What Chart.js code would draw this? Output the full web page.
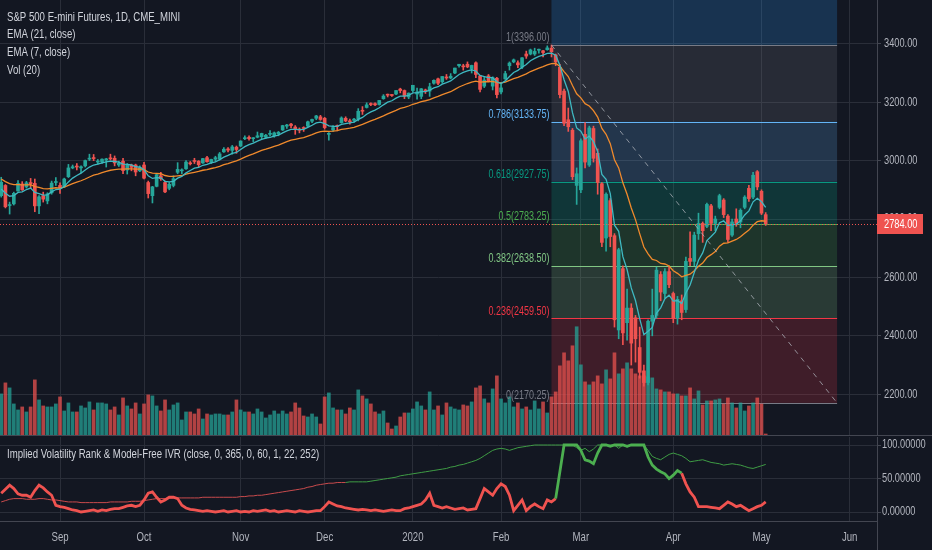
<!DOCTYPE html>
<html lang="en">
<head>
  <meta charset="UTF-8">
  <title>S&P 500 E-mini Futures, 1D</title>
  <script src="https://cdn.jsdelivr.net/npm/chart.js"></script>
  <style>
    html, body { margin: 0; padding: 0; background: #131722; }
    #wrap { position: relative; width: 932px; height: 550px; overflow: hidden; background: #131722; }
    #main { position: absolute; left: 0; top: 0; }
    #ivr { position: absolute; left: 0; top: 436px; }
  </style>
</head>
<body>
<div id="wrap">
  <canvas id="main" width="932" height="436"></canvas>
  <canvas id="ivr" width="932" height="114"></canvas>
</div>
<script>
// daily bars, 2019-08-13 .. 2020-05-04 (index 0..182), x = bar index
const open = [2880,2915,2846,2852,2896,2920,2910,2925,2922,2845,2880,2862,2890,2925,
  2915,2910,2945,2975,2980,2975,2982,3005,3010,2995,2996,3002,3008,3008,2985,2998,2968,2985,2985,2965,
  2985,2925,2880,2912,2948,2925,2905,2915,2960,2965,2972,2990,3000,2998,2992,3010,2994,3005,3005,3030,3040,3035,3046,
  3050,3075,3080,3075,3080,3082,3080,3090,3085,3092,3105,3118,3125,3115,3108,3112,3118,3135,3145,3150,
  3145,3090,3105,3118,3130,3145,3135,3138,3142,3170,3182,3195,3195,3192,3212,3226,3225,3228,3245,3240,3218,
  3240,3228,3220,3242,3238,3265,3280,3270,3286,3283,3300,3325,3322,3330,3315,3335,3290,3255,3290,3255,3282,
  3235,3280,3325,3338,3335,3320,3365,3365,3365,3378,3376,3380,3385,3362,3320,3238,3140,3104,2915,
  2900,3090,2985,3110,3025,2921,2735,2863,2743,2420,2630,2445,2495,2462,2360,2280,2240,2450,2470,2610,2545,2620,
  2545,2460,2520,2490,2665,2655,2750,2785,2775,2845,2785,2840,2865,2810,2745,2800,2790,2840,2905,2875,2962,2895,2815];
const high = [2943,2918,2858,2892,2932,2928,2929,2939,2937,2880,2892,2890,2930,2942,
  2924,2940,2987,2985,2990,2982,3002,3022,3021,3004,3006,3008,3022,3016,2998,3008,2990,2988,2988,2982,
  2994,2930,2912,2953,2960,2930,2925,2948,2993,2972,3000,2997,3008,3000,3008,3015,3005,3015,3028,3045,3045,3052,3050,
  3068,3085,3085,3079,3098,3094,3090,3103,3098,3100,3121,3124,3128,3120,3112,3116,3135,3142,3155,3155,
  3148,3096,3120,3122,3150,3150,3142,3145,3178,3185,3198,3198,3198,3206,3226,3228,3226,3240,3248,3242,3232,
  3258,3248,3247,3245,3265,3277,3283,3288,3295,3298,3317,3330,3330,3338,3327,3338,3292,3285,3295,3287,3285,
  3268,3306,3338,3348,3342,3353,3375,3382,3385,3382,3378,3393,3396,3365,3330,3245,3180,3110,2975,
  3075,3130,3118,3118,3040,2925,2890,2870,2750,2700,2640,2560,2510,2470,2430,2300,2455,2560,2635,2620,2630,2640,
  2550,2535,2540,2670,2756,2755,2820,2790,2855,2850,2810,2885,2870,2815,2800,2835,2835,2880,2915,2960,2966,2900,2822];
const low = [2875,2838,2817,2848,2895,2898,2906,2905,2825,2818,2858,2852,2885,2915,
  2888,2908,2942,2972,2968,2958,2978,3000,3000,2988,2990,2978,3002,2982,2980,2955,2954,2965,2948,2962,
  2937,2872,2855,2910,2932,2890,2900,2910,2955,2955,2970,2985,2990,2978,2990,2995,2990,2998,3002,3028,3030,3022,3025,
  3048,3072,3070,3065,3078,3075,3076,3085,3080,3085,3103,3110,3112,3090,3095,3100,3116,3130,3140,3138,
  3108,3070,3100,3102,3128,3133,3125,3132,3136,3158,3180,3188,3188,3190,3210,3218,3220,3226,3232,3212,3212,
  3235,3210,3212,3230,3220,3262,3260,3265,3278,3280,3298,3320,3310,3318,3300,3284,3235,3250,3270,3242,3215,
  3228,3278,3310,3335,3318,3315,3350,3362,3360,3368,3355,3378,3355,3325,3215,3120,3100,2935,2850,
  2890,2975,2980,2995,2885,2705,2690,2705,2430,2390,2370,2385,2300,2310,2255,2228,2232,2400,2460,2520,2530,2565,
  2445,2440,2455,2480,2640,2640,2730,2720,2770,2760,2760,2835,2805,2720,2740,2775,2770,2835,2860,2870,2900,2815,2778];
const close = [2926,2842,2848,2888,2922,2900,2924,2921,2845,2876,2868,2886,2923,2926,
  2905,2937,2975,2979,2978,2979,3000,3008,3007,2997,3005,3006,3006,2992,2991,2966,2984,2977,2961,2976,
  2940,2887,2910,2952,2938,2893,2919,2938,2970,2966,2995,2989,2997,2986,3007,2996,3004,3010,3023,3039,3036,3047,3038,
  3067,3078,3075,3077,3085,3093,3087,3091,3095,3097,3120,3122,3120,3108,3104,3110,3133,3141,3153,3141,
  3113,3093,3113,3117,3146,3136,3133,3142,3169,3169,3191,3192,3191,3206,3221,3224,3223,3240,3240,3221,3231,
  3258,3235,3246,3237,3253,3275,3265,3288,3283,3289,3317,3330,3321,3321,3326,3295,3244,3276,3273,3284,3226,
  3249,3298,3334,3345,3328,3352,3358,3379,3374,3380,3370,3386,3373,3338,3226,3128,3116,2945,2955,
  3068,2995,3112,3008,2925,2720,2885,2740,2455,2695,2410,2495,2375,2390,2275,2240,2450,2470,2625,2550,2620,2575,
  2460,2525,2480,2655,2655,2745,2785,2760,2850,2785,2800,2880,2815,2730,2790,2785,2830,2875,2870,2950,2910,2820,2784];
// volume, millions of contracts
const volume = [2.1,2.65,2.4,1.6,1.3,1.45,1.2,1.45,2.8,1.8,1.5,1.45,1.45,1.6,
  1.95,1.25,1.65,1.2,1.2,1.5,1.4,1.7,1.3,1.65,1.65,1.6,1.3,1.45,1.05,1.9,1.5,1.35,1.65,1.1,
  1.6,2.05,2.0,1.5,1.25,1.8,1.3,1.55,1.65,0.8,1.2,1.2,1.1,1.35,0.85,1.1,1.05,1.1,1.1,1.05,1.05,1.2,1.8,
  1.3,1.2,1.2,1.1,1.35,1.2,0.9,1.05,1.25,1.1,1.25,1.1,1.2,1.65,1.4,1.0,0.95,1.1,0.95,0.6,
  1.95,2.15,1.4,1.3,1.3,1.1,1.4,1.3,2.3,2.0,1.85,1.6,1.2,1.1,1.25,0.65,0.35,0.5,0.95,
  1.15,1.15,1.35,1.7,1.5,1.3,2.2,1.3,1.5,1.05,1.65,1.45,1.35,1.3,1.55,1.5,1.7,2.4,2.5,1.85,1.65,2.35,3.0,
  1.85,1.65,1.95,1.45,1.65,1.35,1.45,1.3,1.75,1.35,1.7,1.15,1.95,2.2,
  3.5,4.15,3.75,4.5,5.45,3.55,2.7,2.55,2.7,3.0,2.6,3.3,2.85,4.15,3.1,3.35,3.65,3.35,3.1,3.0,3.0,2.95,2.9,2.35,2.3,
  2.2,2.2,2.1,2.1,2.0,2.0,2.4,1.85,2.25,1.55,1.75,1.75,1.8,1.85,1.6,1.9,1.65,1.4,1.65,1.25,1.5,1.65,1.9,1.6,0.1];
const ema7 = [2903,2888,2878,2880,2891,2893,2901,2906,2891,2887,2882,2883,2893,2901,2902,2911,2927,2940,2949,2957,
  2968,2978,2985,2988,2992,2996,2998,2997,2995,2988,2987,2985,2979,2978,2969,2948,2939,2942,2941,2929,
  2927,2929,2940,2946,2958,2966,2974,2977,2984,2987,2992,2996,3003,3012,3018,3025,3028,3038,3048,3055,
  3060,3067,3073,3077,3080,3084,3087,3095,3102,3107,3107,3106,3107,3114,3121,3129,3132,3127,3119,3117,
  3117,3124,3127,3129,3132,3141,3148,3159,3167,3173,3181,3191,3200,3205,3214,3221,3221,3223,3232,3233,
  3236,3236,3241,3249,3253,3262,3267,3273,3284,3295,3302,3307,3311,3307,3292,3288,3284,3284,3270,3264,
  3273,3288,3302,3309,3320,3329,3342,3350,3357,3361,3367,3368,3361,3327,3277,3237,3164,3112,3101,3074,
  3084,3065,3031,2953,2936,2887,2779,2758,2671,2627,2564,2521,2459,2404,2416,2429,2478,2496,2527,2539,
  2519,2521,2511,2547,2574,2617,2659,2684,2726,2740,2755,2787,2794,2778,2781,2782,2794,2814,2828,2859,
  2871,2859,2840];
const ema21 = [2937,2928,2921,2918,2918,2917,2917,2918,2911,2908,2904,2903,2905,2907,2906,2909,2915,2921,2926,2931,
  2937,2944,2950,2954,2959,2963,2967,2969,2971,2971,2972,2972,2971,2972,2969,2961,2957,2956,2955,2949,
  2946,2946,2948,2949,2954,2957,2960,2963,2967,2969,2973,2976,2980,2986,2990,2995,2999,3005,3012,3018,
  3023,3029,3035,3039,3044,3049,3053,3059,3065,3070,3073,3076,3079,3084,3089,3095,3099,3101,3100,3101,
  3103,3107,3109,3111,3114,3119,3124,3130,3136,3141,3147,3153,3160,3166,3172,3179,3182,3187,3193,3197,
  3202,3205,3209,3215,3220,3226,3231,3236,3244,3252,3258,3264,3269,3272,3269,3270,3270,3271,3267,3266,
  3269,3275,3281,3285,3291,3297,3305,3311,3317,3322,3328,3332,3333,3323,3305,3288,3257,3229,3215,3195,
  3187,3171,3149,3110,3090,3058,3003,2975,2924,2885,2838,2798,2750,2704,2681,2662,2658,2648,2646,2639,
  2623,2614,2602,2607,2611,2623,2638,2649,2668,2678,2689,2707,2717,2718,2724,2730,2739,2751,2762,2779,
  2791,2794,2793];
// Implied Volatility Rank (thick) and Model-Free IVR (thin)
const ivrRank = [28,34,40,35,27,25,25,22,32,40,36,30,25,10,
  8,7,5,3,2,0,1,2,3,1,3,2,4,5,5,7,9,10,8,10,
  18,28,30,22,15,18,22,22,20,10,6,4,3,2,1,2,1,0,1,2,0,1,2,
  0,1,0,2,1,2,3,1,2,0,1,2,1,0,2,1,0,1,2,2,
  8,15,12,9,8,6,5,4,3,4,3,2,3,2,1,2,3,2,2,
  5,6,8,10,12,18,28,10,8,6,8,6,4,5,6,3,4,5,20,35,30,25,35,42,38,25,2,10,18,2,8,12,8,5,18,15,20,
  60,100,100,100,100,92,78,76,72,88,100,100,98,100,100,100,98,100,100,100,100,
  82,70,64,60,57,50,55,62,58,42,30,22,8,8,8,7,6,5,10,15,12,8,10,6,2,5,8,10,15];
const ivrModel = [15,17,19,20,20,20,19,19,19,20,20,19,18,18,
  17,16,15,15,15,14,14,14,14,14,14,14,15,15,15,15,15,16,16,16,
  17,18,19,20,20,20,21,21,21,21,21,21,21,21,22,22,22,22,22,22,22,22,22,
  23,23,24,24,25,25,26,27,28,29,30,31,32,33,34,35,37,38,40,41,
  42,43,43,44,44,44,45,45,45,45,45,46,47,48,49,50,51,52,54,
  55,56,57,58,59,60,61,62,63,64,65,67,68,70,71,73,75,77,80,84,88,92,94,95,94,92,94,96,97,98,99,100,
  100,100,100,100,100,100,100,100,100,96,92,95,90,94,100,100,100,100,100,95,100,97,100,100,100,100,
  92,83,80,78,82,86,88,86,84,80,75,76,77,78,76,74,73,72,70,71,72,71,70,68,66,65,67,69,71];

// time axis
const tickIndex = [14, 34, 57, 77, 98, 119, 138, 160, 181, 202];
const tickLabels = ['Sep', 'Oct', 'Nov', 'Dec', '2020', 'Feb', 'Mar', 'Apr', 'May', 'Jun'];
const priceTicks = [2200, 2400, 2600, 2800, 3000, 3200, 3400];
const ivrTicks = [0, 50, 100];

// fib retracement drawn from the Feb high to the March low
const fibRatios = ['1.618', '1', '0.786', '0.618', '0.5', '0.382', '0.236', '0'];
const fibPrices = [4153.50, 3396.00, 3133.75, 2927.75, 2783.25, 2638.50, 2459.50, 2170.25];
const fibColors = ['#2c9cf5', '#787b86', '#64b5f6', '#089981', '#4caf50', '#81c784', '#f23645', '#787b86'];
const fibStart = 131, fibEnd = 199;
const lastPrice = 2784.00;

const legendMain = ['S&P 500 E-mini Futures, 1D, CME_MINI', 'EMA (21, close)', 'EMA (7, close)', 'Vol (20)'];
const legendIvr = 'Implied Volatility Rank & Model-Free IVR (close, 0, 365, 0, 60, 1, 22, 252)';

const FONT = "'Liberation Sans', Arial, sans-serif";
const GRID = '#2a2e39';
const AXIS = '#434651';
const TXT = '#b2b5be';
const UP = '#26a69a', DOWN = '#ef5350';
const X_MIN = -0.29, X_MAX = 208.5;

Chart.defaults.font.family = FONT;
Chart.defaults.color = TXT;

const idx = close.map((_, i) => i);
const isUp = i => close[i] >= open[i];
const noPad = s => { s.paddingTop = 0; s.paddingBottom = 0; s.paddingLeft = 0; s.paddingRight = 0; };

function hex(c, a) {
  const n = parseInt(c.slice(1), 16);
  return `rgba(${n >> 16},${(n >> 8) & 255},${n & 255},${a})`;
}

// TradingView draws with a narrow face; squeeze the installed one horizontally
function narrowText(ctx, text, x, y, size, color, align, sx) {
  ctx.save();
  ctx.font = size + 'px ' + FONT;
  ctx.fillStyle = color;
  ctx.textAlign = align || 'left';
  ctx.textBaseline = 'middle';
  ctx.translate(x, y);
  ctx.scale(sx || 0.77, 1);
  ctx.fillText(text, 0, 0);
  ctx.restore();
}

const fibPlugin = {
  id: 'fib',
  beforeDatasetsDraw(chart) {
    const { ctx, chartArea: a, scales: { x, y } } = chart;
    const x0 = x.getPixelForValue(fibStart), x1 = x.getPixelForValue(fibEnd);
    ctx.save();
    ctx.beginPath();
    ctx.rect(a.left, a.top, a.right - a.left, a.bottom - a.top);
    ctx.clip();
    for (let k = 0; k < fibPrices.length - 1; k++) {
      const t = y.getPixelForValue(fibPrices[k]), b = y.getPixelForValue(fibPrices[k + 1]);
      ctx.fillStyle = hex(fibColors[k], k === 0 ? 0.22 : (k === 3 ? 0.24 : 0.2));
      ctx.fillRect(x0, t, x1 - x0, b - t);
    }
    for (let k = 1; k < fibPrices.length; k++) {
      const py = Math.round(y.getPixelForValue(fibPrices[k])) + 0.5;
      ctx.strokeStyle = fibColors[k];
      ctx.lineWidth = 1;
      ctx.beginPath();
      ctx.moveTo(x0, py);
      ctx.lineTo(x1, py);
      ctx.stroke();
    }
    ctx.restore();
  },
  afterDatasetsDraw(chart) {
    const { ctx, scales: { x, y } } = chart;
    const x0 = x.getPixelForValue(fibStart);
    for (let k = 1; k < fibPrices.length; k++) {
      narrowText(ctx, `${fibRatios[k]}(${fibPrices[k].toFixed(2)})`, x0 - 2,
        y.getPixelForValue(fibPrices[k]) - 7, 12, fibColors[k], 'right', 0.75);
    }
  }
};

const mainDecor = {
  id: 'mainDecor',
  afterDraw(chart) {
    const { ctx, chartArea: a, scales: { y } } = chart;
    priceTicks.forEach(v => narrowText(ctx, v.toFixed(2), a.right + 7, y.getPixelForValue(v), 12.5, TXT, 'left', 0.74));
    const py = Math.round(y.getPixelForValue(lastPrice)) + 0.5;
    ctx.save();
    ctx.strokeStyle = DOWN;
    ctx.lineWidth = 1;
    ctx.setLineDash([1, 2]);
    ctx.beginPath();
    ctx.moveTo(a.left, py);
    ctx.lineTo(a.right, py);
    ctx.stroke();
    ctx.setLineDash([]);
    ctx.fillStyle = DOWN;
    ctx.fillRect(a.right, py - 10.5, 46, 20);
    // pane separator
    ctx.strokeStyle = AXIS;
    ctx.beginPath();
    ctx.moveTo(0, 435.5);
    ctx.lineTo(chart.width, 435.5);
    ctx.stroke();
    ctx.restore();
    narrowText(ctx, lastPrice.toFixed(2), a.right + 7, py, 12.5, '#ffffff', 'left', 0.74);
    legendMain.forEach((t, i) => narrowText(ctx, t, 7, 17 + i * 17.8, 13, '#d1d4dc', 'left', 0.74));
  }
};

const ivrDecor = {
  id: 'ivrDecor',
  afterDraw(chart) {
    const { ctx, chartArea: a, scales: { x, y } } = chart;
    narrowText(ctx, legendIvr, 7, 18, 13, '#d1d4dc', 'left', 0.74);
    ivrTicks.forEach(v => narrowText(ctx, v.toFixed(5), a.right + 5, y.getPixelForValue(v), 12.5, TXT, 'left', 0.74));
    tickIndex.forEach((v, i) => narrowText(ctx, tickLabels[i], x.getPixelForValue(v), a.bottom + 16, 13, TXT, 'center', 0.74));
    ctx.save();
    ctx.strokeStyle = AXIS;
    ctx.beginPath();
    ctx.moveTo(a.right + 0.5, a.bottom);
    ctx.lineTo(a.right + 0.5, chart.height);
    ctx.stroke();
    ctx.restore();
  }
};

const xCommon = {
  type: 'linear', min: X_MIN, max: X_MAX, offset: false,
  afterBuildTicks: s => { s.ticks = tickIndex.map(v => ({ value: v })); },
  ticks: { display: false },
  grid: { color: GRID, drawTicks: false, offset: false }
};

const yCommon = {
  type: 'linear', position: 'right',
  ticks: { display: false },
  grid: { color: GRID, tickLength: 4, tickColor: AXIS },
  border: { display: true, color: AXIS },
  afterFit: s => { s.width = 55; noPad(s); }
};

new Chart(document.getElementById('main'), {
  type: 'bar',
  data: {
    datasets: [
      {
        type: 'line', label: 'trend', order: 0,
        data: [{ x: fibStart, y: fibPrices[1] }, { x: fibEnd, y: fibPrices[7] }],
        borderColor: 'rgba(178,181,190,0.75)', borderWidth: 1, borderDash: [5, 5], pointRadius: 0
      },
      {
        type: 'line', label: 'EMA 7', order: 1,
        data: idx.map(i => ({ x: i, y: ema7[i] })),
        borderColor: '#3fb9c2', borderWidth: 1.3, pointRadius: 0, tension: 0
      },
      {
        type: 'line', label: 'EMA 21', order: 1,
        data: idx.map(i => ({ x: i, y: ema21[i] })),
        borderColor: '#f08a2c', borderWidth: 1.3, pointRadius: 0, tension: 0
      },
      {
        label: 'body', order: 2, grouped: false, barThickness: 3, minBarLength: 1,
        data: idx.map(i => ({ x: i, y: [open[i], close[i]] })),
        backgroundColor: idx.map(i => isUp(i) ? UP : DOWN)
      },
      {
        label: 'wick', order: 3, grouped: false, barThickness: 1,
        data: idx.map(i => ({ x: i, y: [low[i], high[i]] })),
        backgroundColor: idx.map(i => isUp(i) ? UP : DOWN)
      },
      {
        label: 'Vol', order: 6, grouped: false, barThickness: 3, yAxisID: 'yv',
        data: idx.map(i => ({ x: i, y: volume[i] })),
        backgroundColor: idx.map(i => isUp(i) ? 'rgba(38,166,154,0.72)' : 'rgba(239,83,80,0.72)')
      }
    ]
  },
  options: {
    responsive: false, animation: false, events: [],
    layout: { padding: 0 },
    plugins: { legend: { display: false }, tooltip: { enabled: false } },
    scales: {
      x: Object.assign({}, xCommon, {
        border: { display: false },
        afterFit: s => { s.height = 0; noPad(s); }
      }),
      y: Object.assign({}, yCommon, {
        min: 2057, max: 3550,
        afterBuildTicks: s => { s.ticks = priceTicks.map(v => ({ value: v })); }
      }),
      yv: { type: 'linear', display: false, min: 0, max: 21.75 }
    }
  },
  plugins: [fibPlugin, mainDecor]
});

const colorBy = (hi, lo) => c => c.p1.parsed.y >= 45 ? hi : lo;

new Chart(document.getElementById('ivr'), {
  type: 'line',
  data: {
    datasets: [
      {
        label: 'Model-Free IVR', order: 2,
        data: idx.map(i => ({ x: i, y: ivrModel[i] })),
        borderColor: '#c94b4d', borderWidth: 1, pointRadius: 0,
        segment: { borderColor: colorBy('#3f9d45', '#c94b4d') }
      },
      {
        label: 'IV Rank', order: 1,
        data: idx.map(i => ({ x: i, y: ivrRank[i] })),
        borderColor: DOWN, borderWidth: 2.8, pointRadius: 0,
        segment: { borderColor: colorBy('#4caf50', '#f05350') }
      }
    ]
  },
  options: {
    responsive: false, animation: false, events: [],
    layout: { padding: { top: 1 } },
    plugins: { legend: { display: false }, tooltip: { enabled: false } },
    scales: {
      x: Object.assign({}, xCommon, {
        border: { display: true, color: AXIS },
        afterFit: s => { s.height = 29; noPad(s); }
      }),
      y: Object.assign({}, yCommon, {
        min: -13.43, max: 111.94,
        afterBuildTicks: s => { s.ticks = ivrTicks.map(v => ({ value: v })); }
      })
    }
  },
  plugins: [ivrDecor]
});
</script>
</body>
</html>
